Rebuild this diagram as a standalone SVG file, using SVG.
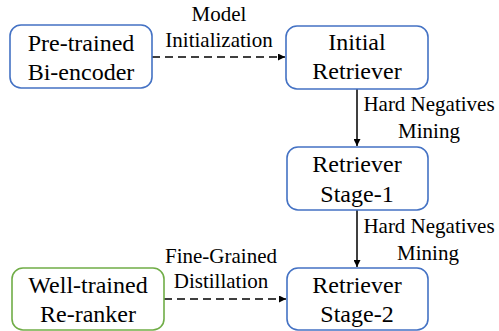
<svg xmlns="http://www.w3.org/2000/svg" width="499" height="331" viewBox="0 0 499 331">
<style>
.box{fill:#fff;stroke-width:1.6}
.blue{stroke:#4472C4}
.green{stroke:#70AD47}
.bt{font-family:'Liberation Serif','Times New Roman',Times,'DejaVu Serif',serif;font-size:24px;fill:#000;text-anchor:middle}
.lt{font-family:'Liberation Serif','Times New Roman',Times,'DejaVu Serif',serif;font-size:21px;fill:#000;text-anchor:middle}
.ln{stroke:#000;stroke-width:1.5;fill:none}
.dash{stroke-dasharray:8,5}
</style>
<defs>
<marker id="ah" viewBox="0 0 10 10" refX="10" refY="5" markerWidth="7" markerHeight="7" markerUnits="userSpaceOnUse" orient="auto">
<path d="M0,0 L10,5 L0,10 z" fill="#000"/>
</marker>
</defs>
<rect width="499" height="331" fill="#fff"/>
<g id="connectors">
<line class="ln dash" x1="152" y1="57" x2="285" y2="57" marker-end="url(#ah)"/>
<text class="lt" x="219" y="21" font-family="Liberation Serif, serif">Model</text>
<text class="lt" x="219" y="47" font-family="Liberation Serif, serif">Initialization</text>
<line class="ln" x1="357" y1="89" x2="357" y2="146" marker-end="url(#ah)"/>
<text class="lt" x="429" y="111" font-family="Liberation Serif, serif">Hard Negatives</text>
<text class="lt" x="429" y="138" font-family="Liberation Serif, serif">Mining</text>
<line class="ln" x1="357" y1="210" x2="357" y2="267" marker-end="url(#ah)"/>
<text class="lt" x="429" y="233" font-family="Liberation Serif, serif">Hard Negatives</text>
<text class="lt" x="428" y="260" font-family="Liberation Serif, serif">Mining</text>
<line class="ln dash" x1="164" y1="299" x2="286" y2="299" marker-end="url(#ah)"/>
<text class="lt" x="221" y="263" font-family="Liberation Serif, serif">Fine-Grained</text>
<text class="lt" x="221" y="288" font-family="Liberation Serif, serif">Distillation</text>
</g>
<g id="pretrained">
<rect class="box blue" x="10" y="25" width="142" height="63" rx="11"/>
<text class="bt" x="81" y="51">Pre-trained</text>
<text class="bt" x="81" y="80">Bi-encoder</text>
</g>
<g id="initial">
<rect class="box blue" x="286" y="26" width="142" height="63" rx="11"/>
<text class="bt" x="357" y="50">Initial</text>
<text class="bt" x="357" y="79">Retriever</text>
</g>
<g id="stage1">
<rect class="box blue" x="287" y="147" width="141" height="63" rx="11"/>
<text class="bt" x="357" y="172">Retriever</text>
<text class="bt" x="357" y="202">Stage-1</text>
</g>
<g id="stage2">
<rect class="box blue" x="287" y="268" width="141" height="62" rx="11"/>
<text class="bt" x="357" y="293">Retriever</text>
<text class="bt" x="357" y="322">Stage-2</text>
</g>
<g id="reranker">
<rect class="box green" x="12" y="268" width="152" height="62" rx="11"/>
<text class="bt" x="88" y="293">Well-trained</text>
<text class="bt" x="88" y="322">Re-ranker</text>
</g>
</svg>
